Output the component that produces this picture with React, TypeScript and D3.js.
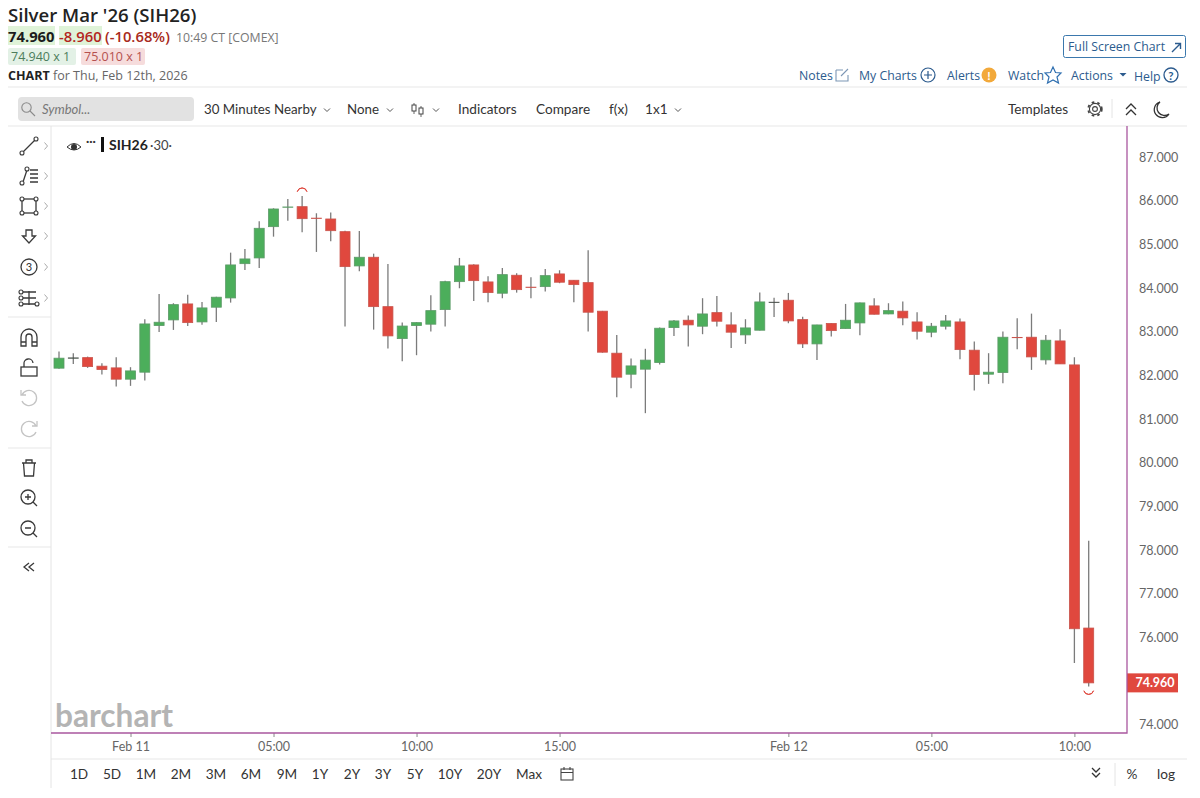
// @ts-nocheck
import React, { useEffect, useRef } from "react";
import { select, scaleLinear, scalePoint, axisBottom, axisRight, arc, format } from "d3";

// 30 minute bars, Feb 10 evening to Feb 12 morning (the 16:00-17:00 break has no bars)
const barTimes = [
  "02-10 21:30", "02-10 22:00", "02-10 22:30", "02-10 23:00", "02-10 23:30",
  "02-11 00:00", "02-11 00:30", "02-11 01:00", "02-11 01:30", "02-11 02:00",
  "02-11 02:30", "02-11 03:00", "02-11 03:30", "02-11 04:00", "02-11 04:30",
  "02-11 05:00", "02-11 05:30", "02-11 06:00", "02-11 06:30", "02-11 07:00",
  "02-11 07:30", "02-11 08:00", "02-11 08:30", "02-11 09:00", "02-11 09:30",
  "02-11 10:00", "02-11 10:30", "02-11 11:00", "02-11 11:30", "02-11 12:00",
  "02-11 12:30", "02-11 13:00", "02-11 13:30", "02-11 14:00", "02-11 14:30",
  "02-11 15:00", "02-11 15:30", "02-11 17:00", "02-11 17:30", "02-11 18:00",
  "02-11 18:30", "02-11 19:00", "02-11 19:30", "02-11 20:00", "02-11 20:30",
  "02-11 21:00", "02-11 21:30", "02-11 22:00", "02-11 22:30", "02-11 23:00",
  "02-11 23:30", "02-12 00:00", "02-12 00:30", "02-12 01:00", "02-12 01:30",
  "02-12 02:00", "02-12 02:30", "02-12 03:00", "02-12 03:30", "02-12 04:00",
  "02-12 04:30", "02-12 05:00", "02-12 05:30", "02-12 06:00", "02-12 06:30",
  "02-12 07:00", "02-12 07:30", "02-12 08:00", "02-12 08:30", "02-12 09:00",
  "02-12 09:30", "02-12 10:00", "02-12 10:30",
];

const opens = [
  82.165, 82.4, 82.407, 82.211, 82.172, 81.913, 82.073, 83.14, 83.27, 83.636,
  83.224, 83.561, 83.773, 84.558, 84.689, 85.405, 85.85, 85.863, 85.6, 85.581,
  85.291, 84.506, 84.705, 83.574, 82.842, 83.14, 83.172, 83.506, 84.146, 84.529,
  84.14, 83.881, 84.293, 84.02, 84.032, 84.323, 84.178, 84.124, 83.47, 82.508,
  82.027, 82.142, 82.293, 83.094, 83.263, 83.126, 83.437, 83.156, 82.927, 83.034,
  83.675, 83.721, 83.277, 82.721, 83.19, 83.071, 83.201, 83.591, 83.407, 83.47,
  83.224, 82.989, 83.126, 83.224, 82.577, 82.027, 82.064, 82.87, 82.874, 82.355,
  82.789, 82.24, 76.215,
];
const highs = [
  82.545, 82.508, 82.43, 82.279, 82.416, 82.188, 83.286, 83.865, 83.652, 83.849,
  83.682, 83.803, 84.81, 84.895, 85.529, 85.826, 86.039, 86.108, 85.712, 85.732,
  85.31, 85.307, 84.787, 84.551, 83.208, 83.217, 83.835, 84.169, 84.689, 84.545,
  84.27, 84.46, 84.339, 84.247, 84.437, 84.407, 84.185, 84.865, 83.476, 82.927,
  82.384, 82.609, 83.094, 83.27, 83.369, 83.767, 83.82, 83.446, 83.286, 83.895,
  83.78, 83.888, 83.345, 83.162, 83.194, 83.636, 83.666, 83.767, 83.652, 83.689,
  83.446, 83.201, 83.384, 83.3, 82.773, 82.508, 83.002, 83.309, 83.414, 82.927,
  83.057, 82.416, 78.213,
];
const lows = [
  82.15, 82.263, 82.172, 82.018, 81.744, 81.76, 81.881, 82.995, 83.041, 83.133,
  83.162, 83.224, 83.666, 84.414, 84.46, 85.176, 85.542, 85.277, 84.826, 85.071,
  83.117, 84.384, 83.048, 82.613, 82.325, 82.462, 83.002, 83.117, 83.995, 83.705,
  83.675, 83.767, 83.895, 83.767, 83.918, 84.11, 83.675, 83.002, 82.52, 81.501,
  81.707, 81.135, 82.247, 82.904, 82.659, 82.943, 83.117, 82.629, 82.721, 83.03,
  83.339, 83.194, 82.629, 82.355, 82.888, 83.065, 82.92, 83.396, 83.4, 83.149,
  82.819, 82.874, 83.048, 82.37, 81.652, 81.806, 81.822, 82.6, 82.126, 82.247,
  82.26, 75.414, 74.879,
];
const closes = [
  82.394, 82.4, 82.201, 82.133, 81.913, 82.103, 83.178, 83.217, 83.62, 83.208,
  83.545, 83.79, 84.529, 84.666, 85.368, 85.81, 85.856, 85.588, 85.597, 85.313,
  84.49, 84.705, 83.574, 82.904, 83.13, 83.208, 83.483, 84.146, 84.506, 84.169,
  83.895, 84.307, 83.963, 84.018, 84.284, 84.133, 84.078, 83.446, 82.531, 81.959,
  82.217, 82.35, 83.08, 83.247, 83.156, 83.407, 83.24, 82.989, 83.087, 83.682,
  83.675, 83.247, 82.721, 83.155, 83.025, 83.263, 83.66, 83.4, 83.483, 83.316,
  83.011, 83.126, 83.247, 82.59, 82.018, 82.073, 82.874, 82.865, 82.423, 82.805,
  82.263, 76.199, 74.96,
];

const priceTicks = [74, 76, 77, 78, 79, 80, 81, 82, 83, 84, 85, 86, 87];
const timeTickBars = ["02-11 00:00", "02-11 05:00", "02-11 10:00", "02-11 15:00", "02-12 00:00", "02-12 05:00", "02-12 10:00"];
const timeTickLabels = ["Feb 11", "05:00", "10:00", "15:00", "Feb 12", "05:00", "10:00"];
const lastPrice = 74.96;
const highBar = "02-11 06:00";
const lowBar = "02-12 10:30";

const rangeButtons = [
  ["1D", 79], ["5D", 112], ["1M", 146], ["2M", 181], ["3M", 216], ["6M", 251], ["9M", 287],
  ["1Y", 320], ["2Y", 352], ["3Y", 383], ["5Y", 415], ["10Y", 450], ["20Y", 489], ["Max", 529],
];

const UP = "#4cae5b";
const DOWN = "#e0483e";
const WICK = "#7b7b7b";
const FRAME = "#a9579f";
const NAVY = "#2c5b8e";
const INK = "#333";
const SANS = "'Open Sans', 'Noto Sans', sans-serif";
const LATO = "Lato, sans-serif";

const x = scalePoint().domain(barTimes).range([59, 1088.7]);
const y = scaleLinear().domain([74, 87]).range([724.8, 157]);

const candles = barTimes.map((t, i) => ({
  t,
  open: opens[i],
  high: highs[i],
  low: lows[i],
  close: closes[i],
}));

const T = ({ x, y, size = 13, fill = INK, family = LATO, weight = 400, anchor = "start", italic = false, children }) => (
  <text x={x} y={y} fontSize={size} fill={fill} fontFamily={family} fontWeight={weight} textAnchor={anchor} fontStyle={italic ? "italic" : "normal"}>
    {children}
  </text>
);

const Chevron = ({ cx, cy, dir = "down", c = "#555" }) => {
  const d = {
    down: `M${cx - 3},${cy - 1.5} L${cx},${cy + 1.5} L${cx + 3},${cy - 1.5}`,
    right: `M${cx - 1.5},${cy - 3.5} L${cx + 1.5},${cy} L${cx - 1.5},${cy + 3.5}`,
  }[dir];
  return <path d={d} fill="none" stroke={c} strokeWidth={1} />;
};

const SideIcon = ({ kind, cy }) => {
  const cx = 29;
  const s = { fill: "none", stroke: "#3a3a3a", strokeWidth: 1.3 };
  const dot = (a, b) => <circle cx={cx + a} cy={cy + b} r={2} fill="#fff" stroke="#3a3a3a" strokeWidth={1.1} />;
  if (kind === "line")
    return <g><path d={`M${cx - 6},${cy + 6} L${cx + 6},${cy - 6}`} {...s} />{dot(-7, 7)}{dot(7, -7)}</g>;
  if (kind === "fib")
    return <g><path d={`M${cx - 6},${cy + 6} L${cx - 2},${cy - 6} M${cx + 1},${cy - 6} H${cx + 9} M${cx + 1},${cy - 2} H${cx + 9} M${cx + 1},${cy + 2} H${cx + 9} M${cx + 1},${cy + 6} H${cx + 9}`} {...s} />{dot(-7, 7)}{dot(-2, -7)}</g>;
  if (kind === "rect")
    return <g><rect x={cx - 7} y={cy - 7} width={14} height={14} {...s} />{dot(-7, -7)}{dot(7, -7)}{dot(-7, 7)}{dot(7, 7)}</g>;
  if (kind === "arrow")
    return <path d={`M${cx - 3},${cy - 6} H${cx + 3} V${cy} H${cx + 6.5} L${cx},${cy + 7} L${cx - 6.5},${cy} H${cx - 3} Z`} {...s} />;
  if (kind === "count")
    return <g><circle cx={cx} cy={cy} r={8} {...s} /><T x={cx} y={cy + 4} size={11} anchor="middle">3</T></g>;
  if (kind === "measure")
    return <g><path d={`M${cx - 7},${cy - 6} H${cx + 7} M${cx - 7},${cy} H${cx + 7} M${cx - 7},${cy + 6} H${cx + 7} M${cx},${cy - 7} V${cy + 7}`} {...s} />{dot(-8, -6)}{dot(-8, 0)}{dot(-8, 6)}{dot(8, 6)}</g>;
  if (kind === "magnet")
    return <path d={`M${cx - 8},${cy + 8} V${cy - 1} A8,8 0 0 1 ${cx + 8},${cy - 1} V${cy + 8} H${cx + 3} V${cy - 1} A3,3 0 0 0 ${cx - 3},${cy - 1} V${cy + 8} Z M${cx - 8},${cy + 4} H${cx - 3} M${cx + 3},${cy + 4} H${cx + 8}`} {...s} />;
  if (kind === "lock")
    return <g><rect x={cx - 8} y={cy - 1} width={16} height={9} {...s} /><path d={`M${cx - 5},${cy - 1} V${cy - 4} A4.5,4.5 0 0 1 ${cx + 4},${cy - 5}`} {...s} /></g>;
  if (kind === "undo" || kind === "redo") {
    const f = kind === "undo" ? 1 : -1;
    return <path d={`M${cx - 7 * f},${cy - 3} A7.6,7.6 0 1 ${f > 0 ? 1 : 0} ${cx - 7 * f},${cy + 3} M${cx - 8 * f},${cy - 8} V${cy - 3} H${cx - 3 * f}`} fill="none" stroke="#c4c4c4" strokeWidth={1.3} />;
  }
  if (kind === "trash")
    return <path d={`M${cx - 7},${cy - 5} H${cx + 7} M${cx - 3},${cy - 5} V${cy - 8} H${cx + 3} V${cy - 5} M${cx - 5.5},${cy - 5} L${cx - 4.5},${cy + 8} H${cx + 4.5} L${cx + 5.5},${cy - 5}`} {...s} />;
  if (kind === "zoomin" || kind === "zoomout")
    return <g><circle cx={cx - 1} cy={cy - 1} r={7} {...s} /><path d={`M${cx + 4},${cy + 4} L${cx + 8},${cy + 8} M${cx - 4},${cy - 1} H${cx + 2}${kind === "zoomin" ? ` M${cx - 1},${cy - 4} V${cy + 2}` : ""}`} {...s} /></g>;
  return <path d={`M${cx},${cy - 4} L${cx - 5},${cy} L${cx},${cy + 4} M${cx + 5},${cy - 4} L${cx},${cy} L${cx + 5},${cy + 4}`} {...s} />;
};

const sideIcons = [
  ["line", 146, true], ["fib", 176, true], ["rect", 206, true], ["arrow", 236, true], ["count", 267, true], ["measure", 298, true],
  ["magnet", 338], ["lock", 368], ["undo", 398], ["redo", 429], ["trash", 468], ["zoomin", 498], ["zoomout", 529], ["collapse", 567],
];

export default function App() {
  const plot = useRef(null);

  useEffect(() => {
    const g = select(plot.current);
    g.selectAll("*").remove();

    // price axis, no domain line: the purple frame is drawn on its own
    const yAxis = g.append("g").attr("transform", "translate(1127,0)").call(
      axisRight(y).tickValues(priceTicks).tickSize(0).tickPadding(12).tickFormat(format(".3f"))
    );
    yAxis.select(".domain").remove();
    yAxis.selectAll("text").attr("font-family", LATO).attr("font-size", 12.5).attr("fill", "#666");

    const xAxis = g.append("g").attr("transform", "translate(0,733)").call(
      axisBottom(x).tickValues(timeTickBars).tickSize(4).tickPadding(5)
        .tickFormat((d) => timeTickLabels[timeTickBars.indexOf(d)])
    );
    xAxis.select(".domain").remove();
    xAxis.selectAll("line").attr("stroke", "#888");
    xAxis.selectAll("text").attr("font-family", LATO).attr("font-size", 12.5).attr("fill", "#666");

    const bars = g.selectAll(".candle").data(candles).join("g").attr("class", "candle");
    bars.append("line")
      .attr("x1", (d) => x(d.t))
      .attr("x2", (d) => x(d.t))
      .attr("y1", (d) => y(d.high))
      .attr("y2", (d) => y(d.low))
      .attr("stroke", WICK)
      .attr("stroke-width", 1.3);
    bars.append("rect")
      .attr("x", (d) => x(d.t) - 5)
      .attr("width", 10)
      .attr("y", (d) => y(Math.max(d.open, d.close)))
      .attr("height", (d) => Math.max(Math.abs(y(d.open) - y(d.close)), 0.3))
      .attr("fill", (d) => (d.close >= d.open ? UP : DOWN))
      .attr("stroke", (d) => (d.close === d.open ? "#444" : d.close > d.open ? "#5d9a68" : "#c9544c"))
      .attr("stroke-width", 0.8);

    // high and low markers of the visible range
    const cap = arc().innerRadius(5).outerRadius(5);
    const i0 = barTimes.indexOf(highBar);
    const i1 = barTimes.indexOf(lowBar);
    g.append("path")
      .attr("d", cap({ startAngle: -Math.PI / 2.4, endAngle: Math.PI / 2.4 }))
      .attr("transform", `translate(${x(highBar)},${y(highs[i0]) - 3})`)
      .attr("fill", "none").attr("stroke", DOWN).attr("stroke-width", 1);
    g.append("path")
      .attr("d", cap({ startAngle: Math.PI / 1.7, endAngle: Math.PI * 1.41 }))
      .attr("transform", `translate(${x(lowBar)},${y(lows[i1]) + 3})`)
      .attr("fill", "none").attr("stroke", DOWN).attr("stroke-width", 1);

    // last price tag
    g.append("rect").attr("x", 1127).attr("y", y(lastPrice) - 9.5).attr("width", 51).attr("height", 19).attr("fill", DOWN);
    g.append("text").attr("x", 1155).attr("y", y(lastPrice) + 4.5).attr("text-anchor", "middle")
      .attr("font-family", LATO).attr("font-weight", 700).attr("font-size", 12.5).attr("fill", "#fff")
      .text(format(".3f")(lastPrice));
  }, []);

  return (
    <svg width={1200} height={798} style={{ position: "absolute", left: 0, top: 0, background: "#fff" }}>
      {/* quote header */}
      <T x={8} y={22} size={18.6} family={SANS} weight={600} fill="#222">Silver Mar '26 (SIH26)</T>
      <rect x={8} y={26} width={47} height={19} fill="#dff3d8" />
      <rect x={59} y={26} width={43} height={19} fill="#dff3d8" />
      <T x={8} y={42} size={14.8} family={SANS} weight={700} fill="#1c1c1c">74.960</T>
      <T x={59} y={42} size={14.8} family={SANS} weight={600} fill="#b3261e">-8.960</T>
      <T x={105} y={42} size={14.8} family={SANS} weight={600} fill="#a82a20">(-10.68%)</T>
      <T x={176} y={42} size={12.3} family={SANS} fill="#777">10:49 CT [COMEX]</T>
      <rect x={8} y={48} width={68} height={17} rx={2} fill="#e3f1e6" />
      <rect x={81} y={48} width={64} height={17} rx={2} fill="#f6dcdc" />
      <T x={11} y={61} size={12.5} family={SANS} fill="#4c7d5c">74.940 x 1</T>
      <T x={84} y={61} size={12.5} family={SANS} fill="#b5504e">75.010 x 1</T>
      <T x={8} y={80} size={12.5} family={SANS} weight={700} fill="#222">CHART</T>
      <T x={53} y={80} size={12.5} family={SANS} fill="#666">for Thu, Feb 12th, 2026</T>

      {/* top right links */}
      <rect x={1063.5} y={35.5} width={122} height={22} rx={2} fill="#fff" stroke="#3b78ad" />
      <T x={1068} y={51} size={12.3} family={SANS} fill={NAVY}>Full Screen Chart</T>
      <path d="M1172,52 L1180,44 M1175,43.5 H1180.5 V49" fill="none" stroke={NAVY} strokeWidth={1.4} />
      <T x={799} y={80} size={12.3} family={SANS} fill={NAVY}>Notes</T>
      <path d="M836,70 H843 M836,70 V81 H848 V75 M841,76 L848,69" fill="none" stroke="#7d97b5" strokeWidth={1.1} />
      <T x={859} y={80} size={12.3} family={SANS} fill={NAVY}>My Charts</T>
      <circle cx={928} cy={75} r={7} fill="none" stroke={NAVY} strokeWidth={1.2} />
      <path d="M924,75 H932 M928,71 V79" stroke={NAVY} strokeWidth={1.2} />
      <T x={947} y={80} size={12.3} family={SANS} fill={NAVY}>Alerts</T>
      <circle cx={989} cy={75} r={7.5} fill="#f2a93b" />
      <T x={989} y={80} size={12} weight={700} fill="#fff" anchor="middle">!</T>
      <T x={1008} y={80} size={12.3} family={SANS} fill={NAVY}>Watch</T>
      <path d="M1053,67 L1055.5,72.5 L1061,73 L1057,77 L1058.5,83 L1053,80 L1047.5,83 L1049,77 L1045,73 L1050.5,72.5 Z" fill="none" stroke="#2f6fb0" strokeWidth={1.2} />
      <T x={1071} y={80} size={12.3} family={SANS} fill={NAVY}>Actions</T>
      <path d="M1119.5,73 H1126.5 L1123,76.5 Z" fill={NAVY} />
      <T x={1134} y={80.5} size={12.3} family={SANS} fill={NAVY}>Help</T>
      <circle cx={1171} cy={75} r={7} fill="none" stroke={NAVY} strokeWidth={1.3} />
      <T x={1171} y={79.5} size={11.5} weight={700} fill={NAVY} anchor="middle">?</T>

      {/* rules */}
      <path d="M8,87 H1187 M8,126 H1187 M8,317 H51 M8,448 H51 M8,547 H51 M51,759 H1187" stroke="#e8e8e8" strokeWidth={1.2} fill="none" />
      <path d="M51,126 V788 M1112,99 V118 M1115,763 V786" stroke="#e4e4e4" strokeWidth={1} fill="none" />

      {/* toolbar */}
      <rect x={18} y={97} width={176} height={24} rx={4} fill="#e2e2e2" />
      <circle cx={26.5} cy={107.5} r={4.7} fill="none" stroke="#8b8b8b" strokeWidth={1.1} />
      <path d="M30,111 L35,116" stroke="#8b8b8b" strokeWidth={1.1} />
      <T x={42} y={114} size={13} italic fill="#777">Symbol...</T>
      <T x={204} y={114} size={13.3}>30 Minutes Nearby</T>
      <Chevron cx={327} cy={110} />
      <T x={347} y={114} size={13.3}>None</T>
      <Chevron cx={390} cy={110} />
      <path d="M414,103 V114 M421,106 V117" stroke="#666" strokeWidth={1} />
      <rect x={412} y={105} width={4} height={6} fill="#fff" stroke="#444" />
      <rect x={419} y={108} width={4} height={6} fill="#fff" stroke="#444" />
      <Chevron cx={436} cy={110} />
      <T x={458} y={114} size={13.6}>Indicators</T>
      <T x={536} y={114} size={13.6}>Compare</T>
      <T x={609} y={114} size={13.6}>f(x)</T>
      <T x={645} y={114} size={13.6}>1x1</T>
      <Chevron cx={678} cy={110} />
      <T x={1008} y={114} size={13.6}>Templates</T>
      <circle cx={1095} cy={109} r={2.4} fill="none" stroke="#444" strokeWidth={1.1} />
      <circle cx={1095} cy={109} r={5.6} fill="none" stroke="#444" strokeWidth={1.1} />
      <circle cx={1095} cy={109} r={6.8} fill="none" stroke="#444" strokeWidth={1.8} strokeDasharray="2.6 3.1" />
      <path d="M1126,109 L1131,104 L1136,109 M1126,115 L1131,110 L1136,115" fill="none" stroke="#333" strokeWidth={1.3} />
      <path d="M1160,102 A8,8 0 1 0 1169,114 A7,7 0 0 1 1160,102 Z" fill="none" stroke="#333" strokeWidth={1.3} />

      {/* side tools */}
      {sideIcons.map(([kind, cy, more]) => (
        <g key={kind}>
          <SideIcon kind={kind} cy={cy} />
          {more && <Chevron cx={46} cy={cy} dir="right" c="#aaa" />}
        </g>
      ))}

      {/* study legend */}
      <path d="M67,147 Q74,140 81,147 Q74,153 67,147 Z" fill="#fff" stroke="#333" strokeWidth={1} />
      <circle cx={74} cy={147} r={3} fill="#333" />
      <T x={86} y={145} size={12} weight={700}>···</T>
      <rect x={101} y={137} width={3} height={15} fill="#111" />
      <T x={109} y={150} size={14} weight={700} fill="#222">SIH26</T>
      <T x={150} y={150} size={13} fill="#444">·30·</T>

      {/* watermark */}
      <text x={55} y={727} fontFamily={LATO} fontWeight={700} fontSize={32} fill="#b4b4b4" textLength={118} lengthAdjust="spacingAndGlyphs">barchart</text>

      <g ref={plot} />

      {/* frame */}
      <path d="M51,733 H1127 V126" fill="none" stroke={FRAME} strokeWidth={1.3} />

      {/* range buttons */}
      {rangeButtons.map(([label, cx]) => (
        <T key={label} x={cx} y={779} size={13.6} anchor="middle">{label}</T>
      ))}
      <rect x={561} y={769} width={12} height={11} fill="none" stroke="#444" strokeWidth={1.1} />
      <path d="M561,772.5 H573 M564,767 V770 M570,767 V770" stroke="#444" strokeWidth={1.1} />
      <path d="M1092,768 L1096,772 L1100,768 M1092,773 L1096,777 L1100,773" fill="none" stroke="#333" strokeWidth={1.3} />
      <T x={1132} y={779} size={13.6} anchor="middle">%</T>
      <T x={1166} y={779} size={13.6} anchor="middle">log</T>
    </svg>
  );
}
